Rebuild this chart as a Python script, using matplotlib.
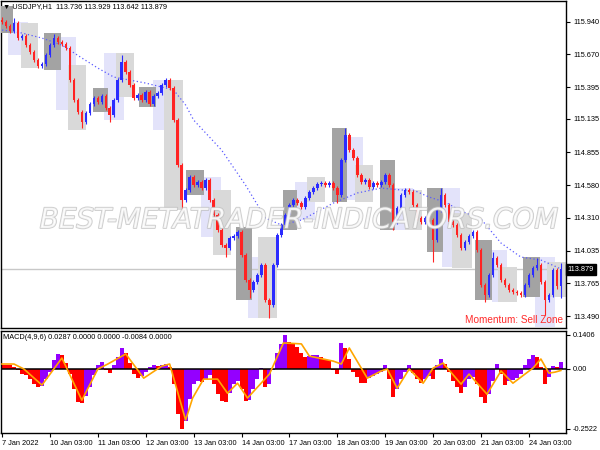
import matplotlib
matplotlib.use("Agg")
import matplotlib.pyplot as plt
import matplotlib.patheffects as pe
from matplotlib import font_manager
from matplotlib.patches import Rectangle
from matplotlib.transforms import blended_transform_factory
import numpy as np

# ---- data (2-hour bars, 12 per trading day) ----
first_open = 115.960
closes = [
    115.940, 115.906, 115.865, 115.931, 115.806, 115.823, 115.748, 115.690, 115.623, 115.573,
    115.590, 115.665, 115.748, 115.806, 115.773, 115.756, 115.723, 115.456, 115.290, 115.190,
    115.106, 115.181, 115.256, 115.306, 115.273, 115.323, 115.223, 115.165, 115.290, 115.456,
    115.606, 115.523, 115.415, 115.306, 115.331, 115.290, 115.356, 115.256, 115.323, 115.348,
    115.415, 115.456, 115.390, 115.123, 114.748, 114.456, 114.540, 114.648, 114.581, 114.606,
    114.556, 114.623, 114.456, 114.331, 114.206, 114.081, 114.056, 114.140, 114.156, 114.190,
    113.998, 113.790, 113.706, 113.773, 113.831, 113.915, 113.623, 113.581, 113.915, 114.165,
    114.248, 114.331, 114.415, 114.456, 114.431, 114.398, 114.473, 114.523, 114.556, 114.590,
    114.598, 114.581, 114.598, 114.556, 114.498, 114.790, 114.998, 114.873, 114.806, 114.665,
    114.606, 114.623, 114.565, 114.598, 114.581, 114.606, 114.665, 114.581, 114.273, 114.390,
    114.498, 114.540, 114.523, 114.415, 114.306, 114.273, 114.306, 114.290, 114.123, 114.373,
    114.498, 114.415, 114.273, 114.248, 114.165, 114.056, 114.106, 114.156, 114.190, 114.040,
    113.748, 113.665, 113.831, 113.973, 113.915, 113.790, 113.748, 113.706, 113.690, 113.681,
    113.665, 113.748, 113.831, 113.890, 113.915, 113.773, 113.623, 113.665, 113.873, 113.736,
    113.879,
]
spike_highs = {3: 115.973, 13: 115.840, 30: 115.665, 41: 115.473, 86: 115.056,
               110: 114.556, 123: 114.023, 134: 113.973, 140: 113.929}
spike_lows = {20: 115.056, 27: 115.106, 45: 114.373, 56: 113.981, 62: 113.640,
              67: 113.473, 84: 114.431, 98: 114.206, 108: 113.940, 121: 113.606,
              136: 113.498, 140: 113.642}

ma_bars = [0, 5, 10, 15, 20, 24, 28, 36, 43, 46, 48, 55, 61, 66, 70, 75, 83, 89, 95, 100,
           103, 107, 111, 115, 120, 125, 130, 135, 139, 140]
ma_vals = [115.873, 115.848, 115.806, 115.748, 115.640, 115.556, 115.481, 115.431, 115.373,
           115.248, 115.123, 114.873, 114.581, 114.306, 114.248, 114.290, 114.431, 114.515,
           114.556, 114.540, 114.540, 114.481, 114.440, 114.365, 114.298, 114.098, 113.981,
           113.956, 113.898, 113.881]

macd = [
    0.017, 0.017, 0.013, 0.008, -0.008, -0.021, -0.025, -0.042, -0.063, -0.076,
    -0.074, -0.042, -0.013, 0.034, 0.059, 0.055, 0.025, -0.021, -0.084, -0.139,
    -0.143, -0.113, -0.076, -0.025, 0.017, 0.029, -0.008, -0.017, 0.017, 0.050,
    0.084, 0.063, 0.025, -0.021, -0.038, -0.029, -0.013, 0.008, 0.013, 0.012,
    0.017, 0.021, 0.008, -0.063, -0.190, -0.2522, -0.218, -0.126, -0.063, -0.050,
    -0.055, -0.042, -0.025, -0.063, -0.105, -0.134, -0.139, -0.101, -0.063, -0.050,
    -0.084, -0.134, -0.130, -0.084, -0.042, 0.004, -0.076, -0.063, -0.008, 0.063,
    0.101, 0.1406, 0.109, 0.105, 0.092, 0.067, 0.050, 0.053, 0.055, 0.056,
    0.050, 0.042, 0.034, -0.008, -0.021, 0.105, 0.084, 0.042, -0.013, -0.034,
    -0.059, -0.060, -0.038, -0.029, -0.021, -0.013, 0.013, -0.042, -0.118, -0.084,
    -0.042, -0.013, 0.017, -0.017, -0.042, -0.059, -0.042, -0.029, -0.042, 0.013,
    0.042, 0.021, -0.013, -0.050, -0.076, -0.101, -0.076, -0.042, -0.034, -0.063,
    -0.118, -0.143, -0.105, -0.050, 0.021, -0.021, -0.067, -0.050, -0.046, -0.038,
    -0.021, 0.013, 0.038, 0.055, 0.050, 0.008, -0.063, -0.034, 0.010, 0.006,
    0.0287,
]
signal_bars = [0, 3, 5.5, 10, 15, 20, 24, 26.5, 31, 35.5, 40, 42, 46, 47.75, 50.5, 54, 56.5,
               59, 61.5, 67, 70.5, 75, 77, 83, 85, 87, 91.5, 95, 96.5, 99, 102, 105.5, 108,
               110.5, 115, 117, 121.5, 125, 128, 133, 135, 137, 138.5, 140]
signal_vals = [0.019, 0.019, -0.002, -0.069, 0.044, -0.132, -0.002, 0.019, 0.061, -0.040,
               0.010, 0.019, -0.215, -0.123, -0.044, -0.044, -0.103, -0.061, -0.123, -0.023,
               0.107, 0.103, 0.052, 0.031, 0.019, 0.086, -0.040, -0.010, -0.002, -0.082,
               -0.002, -0.061, 0.002, 0.023, -0.065, -0.023, -0.107, -0.010, -0.061, 0.002,
               0.040, -0.019, -0.015, -0.008]

# zones: (first bar, last bar, top price, bottom price)
dark_boxes = [(-0.5, 2.75, 116.07, 115.848), (10.5, 14.75, 115.848, 115.540),
              (22.75, 26.5, 115.390, 115.190), (34.25, 38.5, 115.398, 115.231),
              (46, 50.5, 114.706, 114.498), (58.5, 62.75, 114.231, 113.623),
              (70.5, 74, 114.540, 114.206), (82.75, 86.5, 115.056, 114.440),
              (94.75, 98.5, 114.790, 114.206), (106.5, 110.5, 114.556, 114.023),
              (118.5, 122.75, 114.123, 113.623), (130.5, 134.75, 113.981, 113.648)]
lavender_boxes = [(1.5, 6.5, 115.940, 115.665), (13.5, 18.5, 115.815, 115.206),
                  (25.5, 30.5, 115.681, 115.123), (37.75, 42.75, 115.456, 115.040),
                  (49.75, 54.75, 114.648, 114.148), (61.5, 66.5, 113.981, 113.473),
                  (73.5, 78.5, 114.606, 114.290), (86.5, 90.5, 114.981, 114.456),
                  (98, 103, 114.556, 114.206), (110.25, 114.75, 114.556, 113.898),
                  (122.75, 126.5, 114.040, 113.606), (133.5, 138.5, 113.981, 113.398)]
light_boxes = [(4.75, 9, 115.931, 115.556), (16.5, 21, 115.581, 115.040),
               (28.5, 33, 115.681, 115.315), (40.5, 45.25, 115.456, 114.373),
               (52.75, 57.25, 114.540, 113.998), (64.25, 69, 114.148, 113.473),
               (76.5, 81, 114.648, 114.440), (88.5, 93, 114.748, 114.440),
               (101, 105.25, 114.540, 114.206), (112.75, 117.75, 114.348, 113.890),
               (124.25, 129, 113.898, 113.606), (136.5, 141.5, 113.940, 113.648)]

day_labels = ["7 Jan 2022", "10 Jan 03:00", "11 Jan 03:00", "12 Jan 03:00", "13 Jan 03:00",
              "14 Jan 03:00", "17 Jan 03:00", "18 Jan 03:00", "19 Jan 03:00", "20 Jan 03:00",
              "21 Jan 03:00", "24 Jan 03:00"]
bars_per_day = 12
price_ticks = [115.940, 115.670, 115.395, 115.135, 114.855, 114.580, 114.310, 114.035,
               113.765, 113.490]
macd_ticks = [0.1406, 0.0, -0.2522]
macd_tick_labels = ["0.1406", "0.00", "-0.2522"]
last_price = 113.879
header = "\u25bc USDJPY,H1  113.736 113.929 113.642 113.879"
macd_header = "MACD(4,9,6) 0.0287 0.0000 0.0000 -0.0084 0.0000"

# ---- styling ----
available = {f.name for f in font_manager.fontManager.ttflist}
narrow = "Liberation Sans Narrow" in available
small_font = ["Liberation Sans Narrow" if narrow else "Liberation Sans", "DejaVu Sans"]
small_size = 6.2 if narrow else 5.3
BULL, BEAR = "#2b2bff", "#ff2323"

fig = plt.figure(figsize=(6, 4.5), dpi=100)
ax_p = fig.add_axes([0.0017, 0.2711, 0.9417, 0.7267])
ax_m = fig.add_axes([0.0017, 0.0378, 0.9417, 0.2267])

n = len(closes)
x = np.arange(n)
c = np.array(closes)
o = np.concatenate([[first_open], c[:-1]])
hi = np.maximum(o, c) + 0.02
lo = np.minimum(o, c) - 0.02
for k, v in spike_highs.items():
    hi[k] = v
for k, v in spike_lows.items():
    lo[k] = v
cols = np.where(c >= o, BULL, BEAR)

# zones
for boxes, color, z in [(lavender_boxes, "#e3e3fa", 1), (light_boxes, "#d9d9d9", 2),
                        (dark_boxes, "#a3a3a3", 3)]:
    for b0, b1, top, bot in boxes:
        ax_p.add_patch(Rectangle((b0, bot), b1 - b0, top - bot, facecolor=color,
                                 edgecolor="none", zorder=z))

ax_p.axhline(last_price, color="#c8c8c8", lw=1, zorder=1.5)
ax_p.plot(ma_bars, ma_vals, color="#5a5aff", lw=0.9, ls=(0, (1, 2)), zorder=4)

ax_p.vlines(x, lo, hi, colors=cols, lw=0.8, zorder=5)
ax_p.bar(x, np.maximum(np.abs(c - o), 0.004), bottom=np.minimum(o, c), width=0.65,
         color=cols, linewidth=0, zorder=6)

ax_p.text(0.527, 114.29, "BEST-METATRADER-INDICATORS.COM",
          transform=blended_transform_factory(ax_p.transAxes, ax_p.transData),
          ha="center", va="center", fontsize=20, style="italic", color="white",
          alpha=0.75, family="DejaVu Sans", zorder=7,
          path_effects=[pe.withStroke(linewidth=1.3, foreground="#bdbdbd")])

ax_p.text(0.004, 0.993, header, transform=ax_p.transAxes, ha="left", va="top",
          fontsize=small_size, family=small_font, zorder=8)
ax_p.text(0.995, 0.008, "Momentum: Sell Zone", transform=ax_p.transAxes, ha="right",
          va="bottom", fontsize=7.2, color="#ff2a2a", family="Liberation Sans", zorder=8)

ax_p.set_xlim(-0.25, 141.3)
ax_p.set_ylim(113.39, 116.115)
ax_p.set_xticks([])
ax_p.yaxis.tick_right()
ax_p.set_yticks(price_ticks)
ax_p.set_yticklabels([f"{t:.3f}" for t in price_ticks], family=small_font)
ax_p.tick_params(axis="y", direction="out", length=3, width=0.8, pad=2,
                 labelsize=small_size)
ax_p.text(1.003, last_price, f"{last_price:.3f}",
          transform=blended_transform_factory(ax_p.transAxes, ax_p.transData),
          ha="left", va="center", fontsize=small_size, family=small_font, color="white",
          bbox=dict(boxstyle="square,pad=0.25", facecolor="black", edgecolor="black"),
          clip_on=False)

# MACD pane
m = np.array(macd)
rising = np.concatenate([[False], m[1:] > m[:-1]])
mcols = np.where(rising, "#9400ff", "#ff0000")
ax_m.bar(x, m, width=1.0, color=mcols, linewidth=0, zorder=2)
ax_m.axhline(0, color="black", lw=1.1, zorder=3)
ax_m.plot(signal_bars, signal_vals, color="#ffa500", lw=1.2, zorder=4)
ax_m.text(0.004, 0.97, macd_header, transform=ax_m.transAxes, ha="left", va="top",
          fontsize=small_size, family=small_font, zorder=5)

ax_m.set_xlim(-0.25, 141.3)
ax_m.set_ylim(-0.269, 0.157)
ax_m.yaxis.tick_right()
ax_m.set_yticks(macd_ticks)
ax_m.set_yticklabels(macd_tick_labels, family=small_font)
ax_m.set_xticks([d * bars_per_day for d in range(len(day_labels))])
ax_m.set_xticklabels(day_labels, family=small_font, ha="left")
ax_m.tick_params(axis="both", direction="out", length=3, width=0.8, pad=2,
                 labelsize=small_size)

for ax in (ax_p, ax_m):
    for s in ax.spines.values():
        s.set_color("black")
        s.set_linewidth(1)

fig.savefig("out.png", dpi=100)
